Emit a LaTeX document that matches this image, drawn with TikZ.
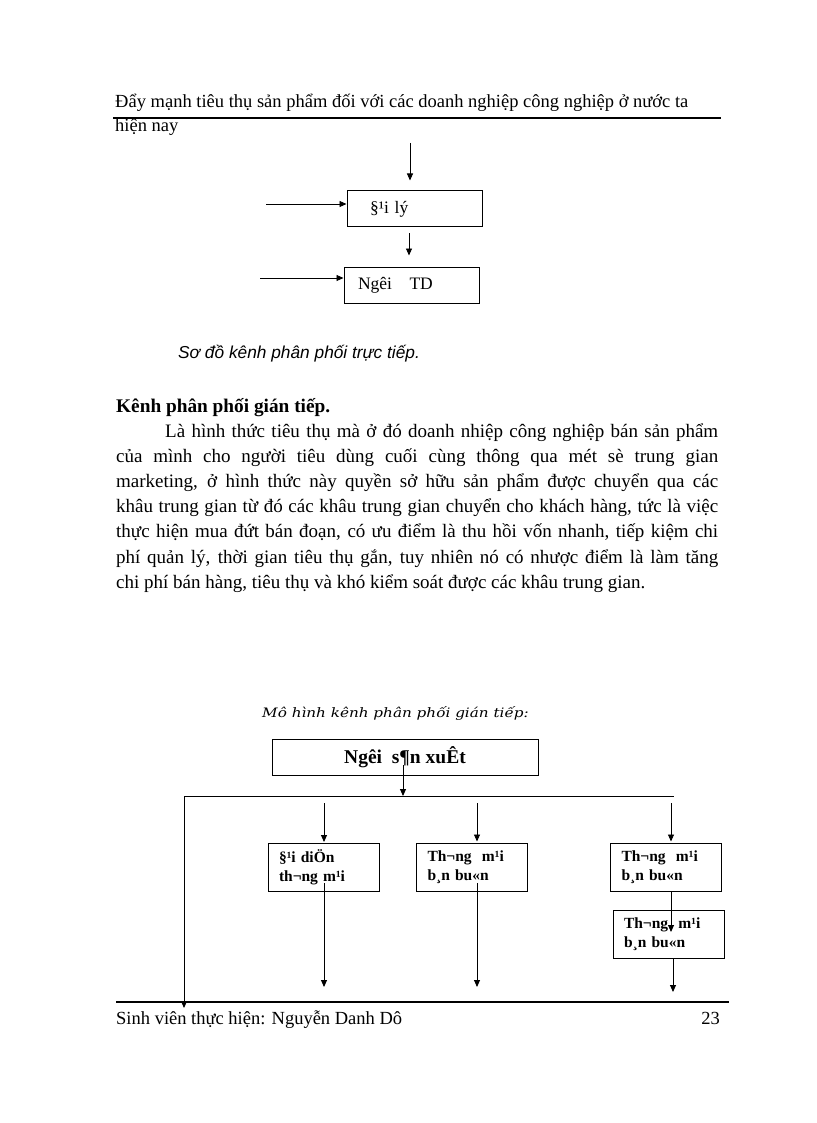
\documentclass[tikz,border=0pt]{standalone}
\usepackage{fontspec}
\setmainfont{Liberation Serif}
\newfontfamily\capsans{Liberation Sans}
\newfontfamily\capserif{DejaVu Serif}
\usetikzlibrary{arrows.meta}
\newcommand{\parline}[2]{\makebox[#1][s]{#2}}
\begin{document}
\begin{tikzpicture}[x=1pt,y=-1pt,
  arr/.style={line width=0.9pt,-{Triangle[length=7pt,width=6pt]}},
  ln/.style={line width=0.9pt},
  bigbox/.style={draw,line width=1pt,minimum height=36pt,inner sep=0pt,font=\fontsize{17.5}{21}\selectfont},
  smallbox/.style={draw,line width=1pt,minimum width=111pt,minimum height=48pt,inner sep=0pt,
    text width=89pt,align=left,font=\fontsize{15.5}{18.5}\selectfont\bfseries},
  txt/.style={anchor=base west,inner sep=0pt,font=\fontsize{19}{22}\selectfont},
 ]
\useasboundingbox (0,0) rectangle (816,1123);
\fill[white] (0,0) rectangle (816,1123);

% header
\node[txt,font=\fontsize{18.5}{22}\selectfont] (h1) at (115,108) {Đẩy mạnh tiêu thụ sản phẩm đối với các doanh nghiệp công nghiệp ở nước ta};
\coordinate (ul) at (113,118);
\coordinate (ur) at (721,118);
\draw[line width=1.1pt] (ul) -- (ur);
\node[txt,font=\fontsize{18.5}{22}\selectfont] (h2) at (115,132) {hiện nay};

% direct channel diagram
\node[bigbox,minimum width=135pt,text width=89pt,align=left] (dl) at (414.5,209) {§¹i lý};
\node[bigbox,minimum width=135pt,text width=107pt,align=left] (td) at (411.5,285) {Ngêi\ \ \ TD};
\coordinate (t0) at (410,143);
\draw[arr,shorten >=10pt] (t0) -- (t0 |- dl.north);
\coordinate (la) at (266,204);
\draw[arr] (la) -- (la -| dl.west);
\coordinate (m) at (409,0);
\draw[arr,shorten <=6pt,shorten >=11pt] (m |- dl.south) -- (m |- td.north);
\coordinate (lb) at (260,278);
\draw[arr] (lb) -- (lb -| td.west);

\node[anchor=base west,inner sep=0pt,font=\capsans\itshape\fontsize{17.3}{20}\selectfont] (cap1) at (178,358) {Sơ đồ kênh phân phối trực tiếp.};

% section
\node[txt,font=\fontsize{19.3}{22}\selectfont\bfseries] (sec) at (116,412) {Kênh phân phối gián tiếp.};
\node[txt] (p1) at (165,437) {\parline{553pt}{Là hình thức tiêu thụ mà ở đó doanh nhiệp công nghiệp bán sản phẩm}};
\node[txt] (p2) at (116,462) {\parline{602pt}{của mình cho người tiêu dùng cuối cùng thông qua mét sè trung gian}};
\node[txt] (p3) at (116,487) {\parline{602pt}{marketing, ở hình thức này quyền sở hữu sản phẩm được chuyển qua các}};
\node[txt] (p4) at (116,512) {\parline{602pt}{khâu trung gian từ đó các khâu trung gian chuyển cho khách hàng, tức là việc}};
\node[txt] (p5) at (116,537) {\parline{602pt}{thực hiện mua đứt bán đoạn, có ưu điểm là thu hồi vốn nhanh, tiếp kiệm chi}};
\node[txt] (p6) at (116,563) {\parline{602pt}{phí quản lý, thời gian tiêu thụ gắn, tuy nhiên nó có nhược điểm là làm tăng}};
\node[txt] (p7) at (116,588) {chi phí bán hàng, tiêu thụ và khó kiểm soát được các khâu trung gian.};

% indirect channel diagram
\node[anchor=base west,inner sep=0pt,font=\capserif\itshape\fontsize{13}{15}\selectfont] (cap2) at (262,717) {\scalebox{1.17}[1]{Mô hình kênh phân phối gián tiếp:}};
\node[bigbox,minimum width=266pt,font=\fontsize{19.5}{22}\selectfont\bfseries] (ps) at (405,757) {Ngêi\ \ s¶n xuÊt};
\coordinate (hl) at (184,796);
\coordinate (hr) at (674,796);
\draw[ln] (hl) -- (hr);
\coordinate (psa) at (403,765);
\draw[arr] (psa) -- (psa |- hl);
\coordinate (lend) at (184,1008);
\draw[arr] (hl) -- (lend);

\node[smallbox] (b1) at (323.5,867.5) {§¹i diÖn\\th¬ng m¹i};
\node[smallbox] (b2) at (472,867) {Th¬ng\ \ m¹i\\b¸n bu«n};
\node[smallbox] (b3) at (666,867) {Th¬ng\ \ m¹i\\b¸n bu«n};
\node[smallbox] (b4) at (668.5,934) {Th¬ng\ \ m¹i\\b¸n bu«n};

\coordinate (a1) at (324,803);
\coordinate (a2) at (477,803);
\coordinate (a3) at (671,803);
\draw[arr,shorten >=1pt] (a1) -- (a1 |- b1.north);
\draw[arr,shorten >=1pt] (a2) -- (a2 |- b2.north);
\draw[arr,shorten >=1pt] (a3) -- (a3 |- b3.north);

\coordinate (d1) at (324,883);
\coordinate (e1) at (324,987);
\draw[arr] (d1) -- (e1);
\coordinate (d2) at (477,883);
\coordinate (e2) at (477,987);
\draw[arr] (d2) -- (e2);
\coordinate (d3) at (671,0);
\draw[arr,shorten >=2pt] (d3 |- b3.south) -- (d3 |- b4.center);
\coordinate (d4) at (673,0);
\coordinate (e4) at (673,992);
\draw[arr] (d4 |- b4.south) -- (e4);

% footer
\coordinate (fl) at (116,1002);
\coordinate (fr) at (729,1002);
\draw[line width=1.1pt] (fl) -- (fr);
\node[txt,font=\fontsize{18.5}{22}\selectfont] (ft) at (116,1024) {Sinh viên thực hiện: Nguyễn Danh Dô};
\node[anchor=base east,inner sep=0pt,font=\fontsize{18.5}{22}\selectfont] (pg) at (720,1024) {23};
\end{tikzpicture}
\end{document}
